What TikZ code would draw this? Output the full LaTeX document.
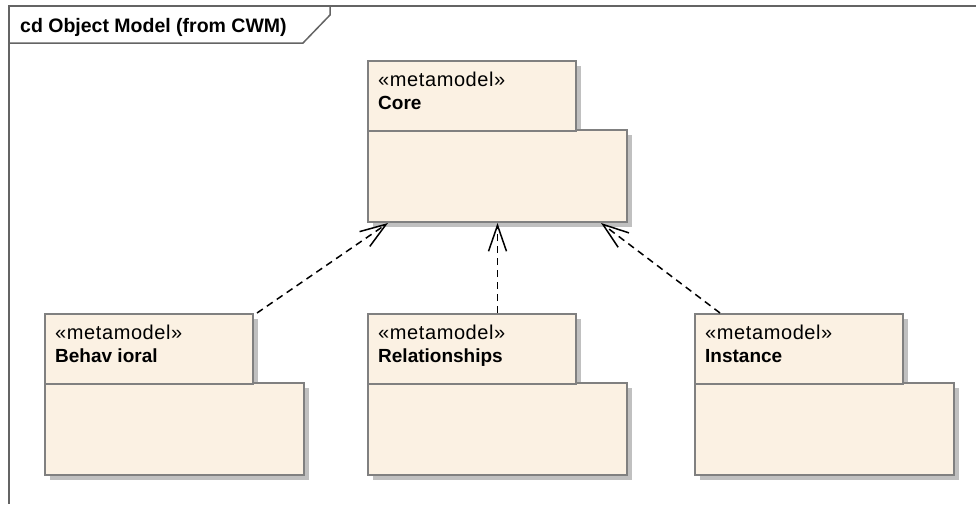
\documentclass[tikz,border=0pt]{standalone}
\usepackage{fontspec}
\setmainfont{Liberation Sans}
\newfontfamily\stereofont[LetterSpace=3]{Liberation Sans}
\usetikzlibrary{arrows.meta,calc}

\definecolor{pkgfill}{RGB}{251,241,227}
\definecolor{pkgline}{RGB}{128,128,128}
\definecolor{pkgshade}{RGB}{192,192,192}
\definecolor{framegray}{RGB}{100,100,100}

\tikzset{
	pkgbox/.style={draw=pkgline, line width=2pt, fill=pkgfill, inner sep=0pt, anchor=north west},
	pkgtext/.style={anchor=base west, inner sep=0pt},
	depends/.style={line width=1.5pt, dash pattern=on 7pt off 5pt, -{Straight Barb[length=26pt,width=18pt]}}
}

% package: name, x, y, stereotype, title
\newcommand\umlpkg[5]{%
	\begin{scope}[shift={(#2,#3)}]
		\fill[pkgshade] (6,6) rectangle (214,76);
		\fill[pkgshade] (6,75) rectangle (265,167);
		\node[pkgbox, minimum width=259pt, minimum height=92pt] (#1) at (0,69) {};
		\node[pkgbox, minimum width=208pt, minimum height=70pt] (#1tab) at (0,0) {};
		\node[pkgtext, font=\stereofont\fontsize{20}{22}\selectfont] (#1st) at (11,26) {#4};
		\node[pkgtext, font=\bfseries\fontsize{19}{22}\selectfont] (#1nm) at (11,49) {#5};
	\end{scope}}

\begin{document}
\begin{tikzpicture}[x=1pt,y=-1pt]
	\useasboundingbox (0,0) rectangle (976,504);

	% diagram frame
	\draw[framegray, line width=1.5pt] (976,6) -- (9,6) -- (9,504);
	\draw[framegray, line width=1.5pt] (9,43) -- (303,43) -- (330,15) -- (330,6);
	\node[anchor=base west, inner sep=0pt, font=\bfseries\fontsize{19.5}{22}\selectfont] (title) at (20,32) {cd Object Model (from CWM)};

	% packages
	\umlpkg{core}{367}{60}{«metamodel»}{Core}
	\umlpkg{behavioral}{44}{313}{«metamodel»}{Behav ioral}
	\umlpkg{relationships}{367}{313}{«metamodel»}{Relationships}
	\umlpkg{instance}{694}{313}{«metamodel»}{Instance}

	% dependencies
	\draw[depends] ($(behavioraltab.north east)+(3,0)$) -- ($(core.south west)+(21,0)$);
	\draw[depends] (relationshipstab.north -| core.south) -- (core.south);
	\draw[depends] ($(instancetab.north west)+(26,0)$) -- ($(core.south east)+(-27,0)$);
\end{tikzpicture}
\end{document}
